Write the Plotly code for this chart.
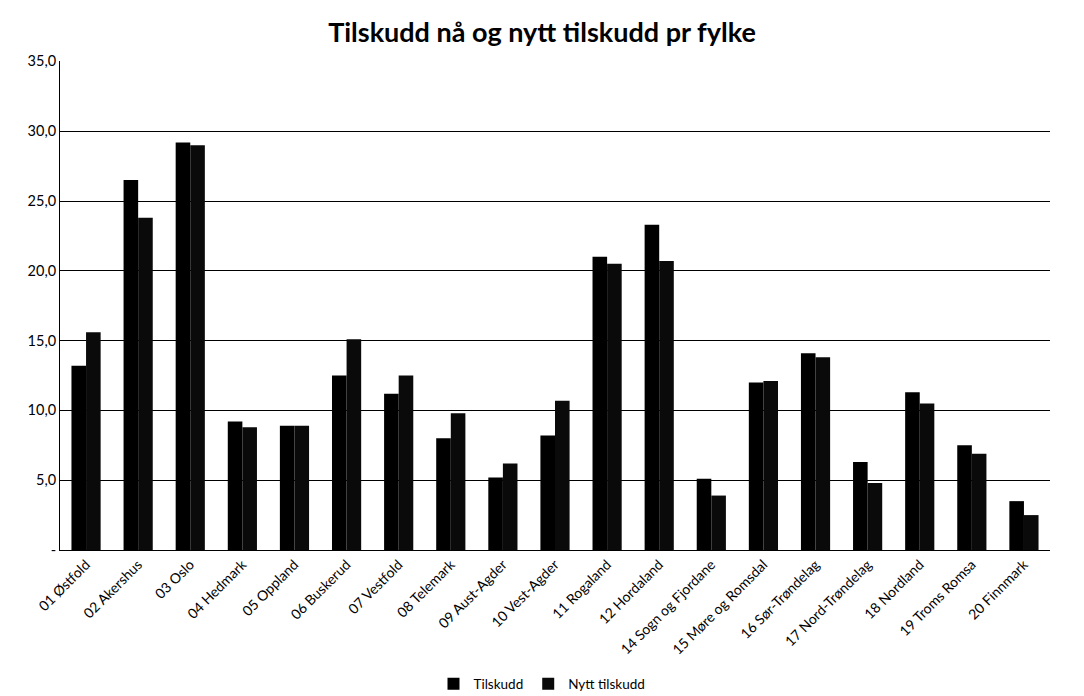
import plotly.graph_objects as go

fylker = ["01 Østfold", "02 Akershus", "03 Oslo", "04 Hedmark", "05 Oppland",
          "06 Buskerud", "07 Vestfold", "08 Telemark", "09 Aust-Agder", "10 Vest-Agder",
          "11 Rogaland", "12 Hordaland", "14 Sogn og Fjordane", "15 Møre og Romsdal",
          "16 Sør-Trøndelag", "17 Nord-Trøndelag", "18 Nordland", "19 Troms Romsa",
          "20 Finnmark"]
tilskudd = [13.2, 26.5, 29.2, 9.2, 8.9, 12.5, 11.2, 8.0, 5.2, 8.2,
            21.0, 23.3, 5.1, 12.0, 14.1, 6.3, 11.3, 7.5, 3.5]
nytt_tilskudd = [15.6, 23.8, 29.0, 8.8, 8.9, 15.1, 12.5, 9.8, 6.2, 10.7,
                 20.5, 20.7, 3.9, 12.1, 13.8, 4.8, 10.5, 6.9, 2.5]
y_ticks = [0, 5, 10, 15, 20, 25, 30, 35]
y_ticktext = ["-", "5,0", "10,0", "15,0", "20,0", "25,0", "30,0", "35,0"]

fig = go.Figure()
fig.add_trace(go.Bar(name="Tilskudd", x=fylker, y=tilskudd,
                     marker=dict(color="#000000", line=dict(width=0))))
fig.add_trace(go.Bar(name="Nytt tilskudd", x=fylker, y=nytt_tilskudd,
                     marker=dict(color="#0a0a0a", line=dict(width=0))))

fig.update_layout(
    width=1084, height=696,
    paper_bgcolor="white", plot_bgcolor="white",
    font=dict(family="Lato, Open Sans, sans-serif", color="black", size=13),
    title=dict(text="<b>Tilskudd nå og nytt tilskudd pr fylke</b>",
               x=0.5, xanchor="center", y=0.953, yanchor="middle",
               font=dict(size=27, family="Lato, Open Sans, sans-serif")),
    margin=dict(l=60, r=34, t=61, b=146),
    barmode="group", bargap=0.44, bargroupgap=0,
    showlegend=True,
    legend=dict(orientation="h", x=0.5, xanchor="center", xref="container",
                y=0.0172, yanchor="middle", yref="container",
                font=dict(size=13.5), itemwidth=30, traceorder="normal"),
)
fig.update_xaxes(tickangle=-45, showline=True, linecolor="black", linewidth=1,
                 ticks="", tickfont=dict(size=14), showgrid=False, automargin=False)
fig.update_yaxes(range=[0, 35.03], tickvals=y_ticks, ticktext=y_ticktext,
                 showgrid=True, gridcolor="black", gridwidth=1,
                 showline=True, linecolor="black", linewidth=1,
                 ticks="", tickfont=dict(size=14.5), zeroline=False, automargin=False)

fig.write_html("out.html", config={"displayModeBar": False},
               post_script="document.body.style.margin='0';document.body.style.overflow='hidden';")
